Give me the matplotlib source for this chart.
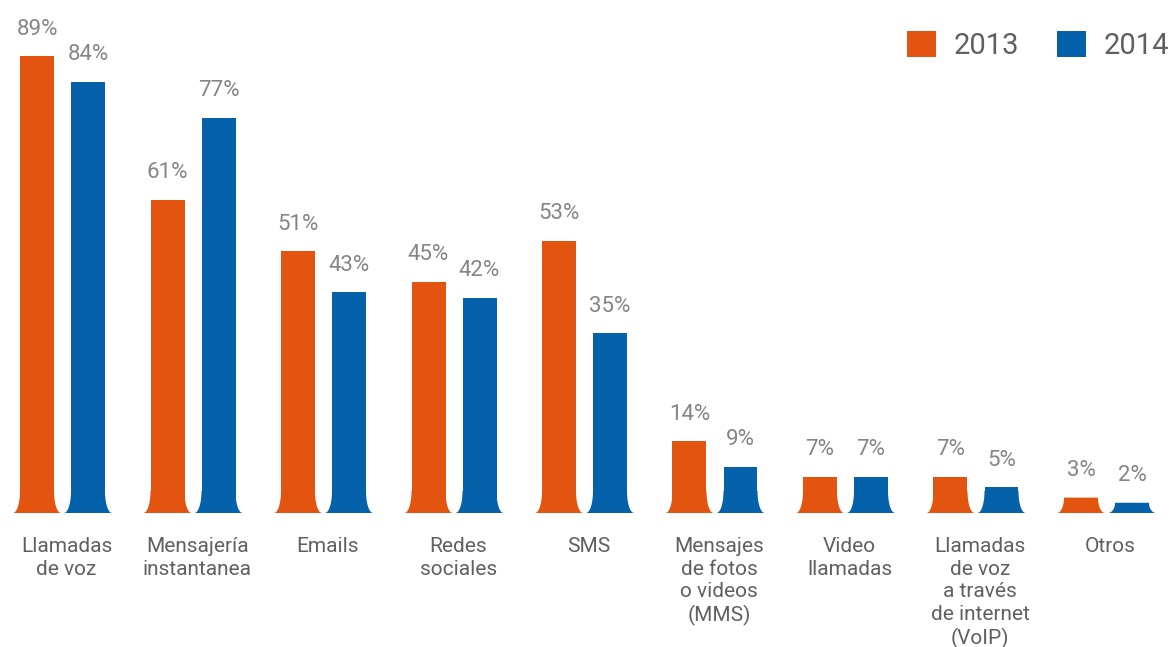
import numpy as np
import matplotlib
matplotlib.use("Agg")
import matplotlib.pyplot as plt
from matplotlib.patches import Polygon

categories = ["Llamadas\nde voz", "Mensajería\ninstantanea", "Emails", "Redes\nsociales", "SMS",
              "Mensajes\nde fotos\no videos\n(MMS)", "Video\nllamadas",
              "Llamadas\nde voz\na través\nde internet\n(VoIP)", "Otros"]
v2013 = [89, 61, 51, 45, 53, 14, 7, 7, 3]
v2014 = [84, 77, 43, 42, 35, 9, 7, 5, 2]
series_names = ["2013", "2014"]
colors = ["#E2540F", "#0461AA"]

plt.rcParams['font.family'] = ['Roboto', 'DejaVu Sans']

W, H = 1170, 647
fig = plt.figure(figsize=(W / 100, H / 100), dpi=100)
base_px = 513
ax = fig.add_axes([0, (H - base_px) / H, 1, base_px / H])
spacing = 130.5
c0 = 62.5
ax.set_xlim(-c0 / spacing, (W - c0) / spacing)
px_per = 5.13
ax.set_ylim(0, base_px / px_per)
ax.axis('off')

x = np.arange(len(categories))
width = 34 / spacing
off = 25.5 / spacing
flare_a = 7 / spacing
flare_b = 22 / px_per

def add_flare(rect, color):
    x0 = rect.get_x()
    x1 = x0 + rect.get_width()
    h = rect.get_height()
    b = min(flare_b, h)
    ys = np.linspace(0, b, 40)
    u = 1 - ys / b
    d = flare_a * (1 - np.sqrt(np.clip(1 - u ** 2, 0, 1)))
    left = np.column_stack([x0 - d, ys])
    right = np.column_stack([x1 + d, ys])[::-1]
    pts = np.vstack([left, right])
    ax.add_patch(Polygon(pts, closed=True, facecolor=color, edgecolor='none', zorder=2))

handles = []
for vals, sgn, col, name in [(v2013, -1, colors[0], series_names[0]), (v2014, 1, colors[1], series_names[1])]:
    bars = ax.bar(x + sgn * off, vals, width=width, color=col, edgecolor='none', zorder=2, label=name)
    handles.append(bars)
    for r, v in zip(bars, vals):
        add_flare(r, col)
        ax.annotate(f"{v}%", (r.get_x() + r.get_width() / 2, r.get_height()),
                    xytext=(0, 12), textcoords='offset points', ha='center', va='bottom',
                    fontsize=16, color='#858585')

for xi, lab in zip(x, categories):
    ax.annotate(lab, (xi, 0), xytext=(3, -17.5), textcoords='offset points',
                ha='center', va='top', fontsize=15, color='#606060', linespacing=1.23,
                annotation_clip=False)

leg = ax.legend(handles=handles, loc='upper right', bbox_to_anchor=(1.022, 0.99), ncol=2,
                frameon=False, fontsize=21, handlelength=1.0, handleheight=1.0,
                handletextpad=0.6, columnspacing=1.3)
for t in leg.get_texts():
    t.set_color('#606060')

fig.savefig("out.png", dpi=100)
